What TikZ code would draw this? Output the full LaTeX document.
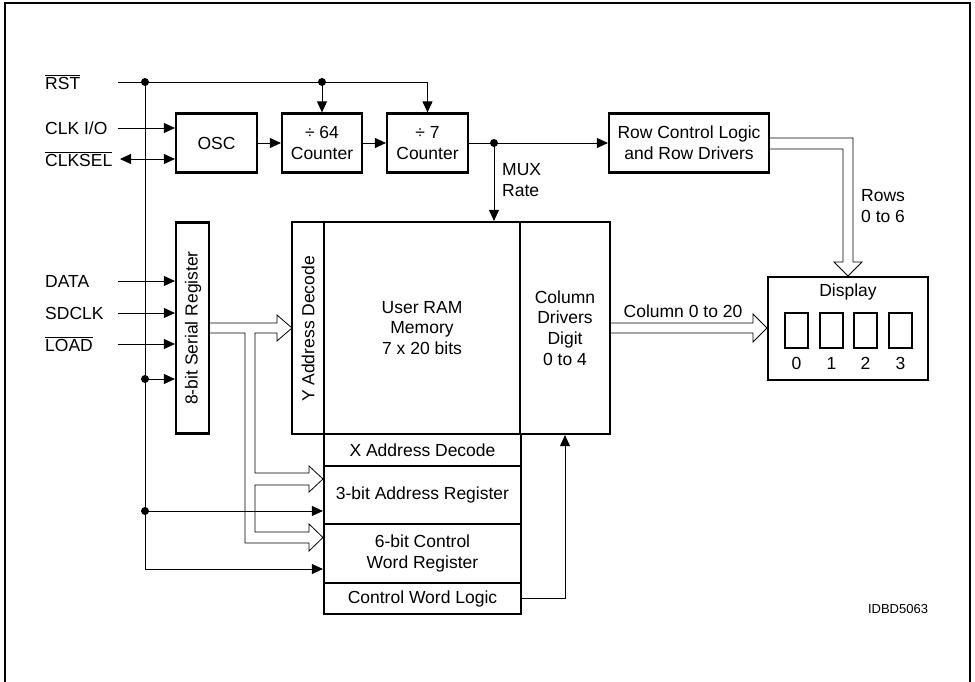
\documentclass[tikz,border=0pt]{standalone}
\usepackage{fontspec}
\setmainfont{Liberation Sans}
\usetikzlibrary{arrows.meta}
\newcommand\dfont{\fontsize{17.5}{20.8}\selectfont}
\begin{document}
\begin{tikzpicture}[x=1pt,y=-1pt,
  box/.style={draw, line width=2.2pt, inner sep=0pt, align=center, font=\dfont},
  ln/.style={line width=0.9pt},
  arr/.style={ln, -{Triangle[length=11pt,width=10pt]}},
  hol/.style={line width=0.8pt, line join=miter},
  dot/.style={circle, fill, inner sep=0pt, minimum size=8pt},
  lbl/.style={font=\dfont, inner sep=0pt, align=left},
  txt/.style={font=\dfont, inner sep=0pt, align=center}]
\useasboundingbox (0,0) rectangle (975,682);
\draw[line width=1.5pt] (5,682) -- (5,3) -- (970,3) -- (970,682);

% left labels
\node[lbl, anchor=west] (lrst) at (45,82) {$\overline{\mbox{\dfont RST}}$};
\node[lbl, anchor=west] (lclk) at (45,128) {CLK I/O};
\node[lbl, anchor=west] (lsel) at (45,159) {$\overline{\mbox{\dfont CLKSEL}}$};
\node[lbl, anchor=west] (ldata) at (45,281) {DATA};
\node[lbl, anchor=west] (lsd) at (45,313) {SDCLK};
\node[lbl, anchor=west] (lload) at (45,344) {$\overline{\mbox{\dfont LOAD}}$};

% top row
\node[box, minimum width=81pt, minimum height=59pt] (osc) at (216.5,143) {OSC};
\node[box, minimum width=80pt, minimum height=59pt] (c64) at (322,143) {÷ 64\\Counter};
\node[box, minimum width=81pt, minimum height=59pt] (c7) at (427.5,143) {÷ 7\\Counter};
\node[box, minimum width=160pt, minimum height=59pt] (row) at (689,143) {Row Control Logic\\and Row Drivers};

% serial register
\node[box, minimum width=33pt, minimum height=211pt] (sreg) at (192.5,328) {};
\node[txt, rotate=90] (sregT) at (193,328) {8-bit Serial Register};

% RAM block
\node[box, minimum width=32pt, minimum height=212pt] (ydec) at (308,328) {};
\node[txt, rotate=90] (ydecT) at (308,329) {Y Address Decode};
\node[box, minimum width=196pt, minimum height=212pt] (ram) at (422,328) {User RAM\\Memory\\7 x 20 bits};
\node[box, minimum width=90pt, minimum height=212pt] (coldrv) at (565,328) {Column\\Drivers\\Digit\\0 to 4};
\node[box, minimum width=197pt, minimum height=32pt] (xdec) at (422.5,450) {X Address Decode};
\node[box, minimum width=197pt, minimum height=58pt] (areg) at (422.5,495) {3-bit Address Register};
\node[box, minimum width=197pt, minimum height=59pt] (creg) at (422.5,553.5) {6-bit Control\\Word Register};
\node[box, minimum width=197pt, minimum height=31pt] (cwl) at (422.5,598.5) {Control Word Logic};

% display
\node[box, minimum width=160pt, minimum height=103pt] (disp) at (848,328.5) {};
\node[txt] (dispT) at (848,292) {Display};
\foreach \i/\x in {0/796.5,1/831.5,2/865.5,3/900.5}{
  \node[draw, line width=2pt, minimum width=23pt, minimum height=35pt, inner sep=0pt] (dg\i) at (\x,330.5) {};
  \node[txt] (dn\i) at (\x,363) {\i};
}

% RST distribution
\coordinate (rstL) at (118,82);
\node[dot] (d1) at (145,82) {};
\node[dot] (dr) at (322,82) {};
\draw[arr] (rstL) -| (c7.north);
\draw[arr] (dr.center) -- (c64.north);
\node[dot] (d2) at (145,379) {};
\node[dot] (d3) at (145,511) {};
\coordinate (busEnd) at (145,569);
\draw[arr] (d1.center) -- (busEnd) -- (creg.west |- busEnd);
\draw[arr] (d2.center) -- (sreg.west |- d2);
\draw[arr] (d3.center) -- (areg.west |- d3);

% clock inputs
\coordinate (clkL) at (118,128);
\coordinate (selL) at (120,159);
\draw[arr] (clkL) -- (osc.west |- clkL);
\draw[ln, {Triangle[length=11pt,width=10pt]}-{Triangle[length=11pt,width=10pt]}] (selL) -- (osc.west |- selL);
\draw[arr] (osc.east) -- (c64.west);
\draw[arr] (c64.east) -- (c7.west);
\node[dot] (dm) at (494,143) {};
\draw[arr] (c7.east) -- (row.west);
\draw[arr] (dm.center) -- (ram.north -| dm);
\node[lbl, anchor=west] (mux) at (502,180) {MUX\\Rate};

% serial inputs
\coordinate (dataL) at (118,281);
\coordinate (sdL) at (118,313);
\coordinate (ldL) at (118,344);
\draw[arr] (dataL) -- (sreg.west |- dataL);
\draw[arr] (sdL) -- (sreg.west |- sdL);
\draw[arr] (ldL) -- (sreg.west |- ldL);

% control word logic to column drivers
\draw[arr] (cwl.east) -| (coldrv.south);

% hollow bus arrows
\draw[hol] (209,323) -- (277,323) -- (277,315) -- (292,328) -- (277,341) -- (277,333)
  -- (255,333) -- (255,473) -- (309,473) -- (309,466) -- (323,479) -- (309,492) -- (309,485)
  -- (255,485) -- (255,532) -- (309,532) -- (309,524) -- (323,537.5) -- (309,551) -- (309,543)
  -- (245,543) -- (245,333) -- (209,333);
\draw[hol] (769,138) -- (853,138) -- (853,262) -- (862,262) -- (848,276) -- (834,262)
  -- (843,262) -- (843,149) -- (769,149);
\draw[hol] (610,323) -- (753,323) -- (753,314) -- (767,328) -- (753,342) -- (753,333) -- (610,333);

\node[lbl, anchor=west] (rows) at (861,206) {Rows\\0 to 6};
\node[txt] (colL) at (683,311) {Column 0 to 20};
\node[txt, font=\fontsize{13}{15}\selectfont] (id) at (898,609) {IDBD5063};
\end{tikzpicture}
\end{document}
